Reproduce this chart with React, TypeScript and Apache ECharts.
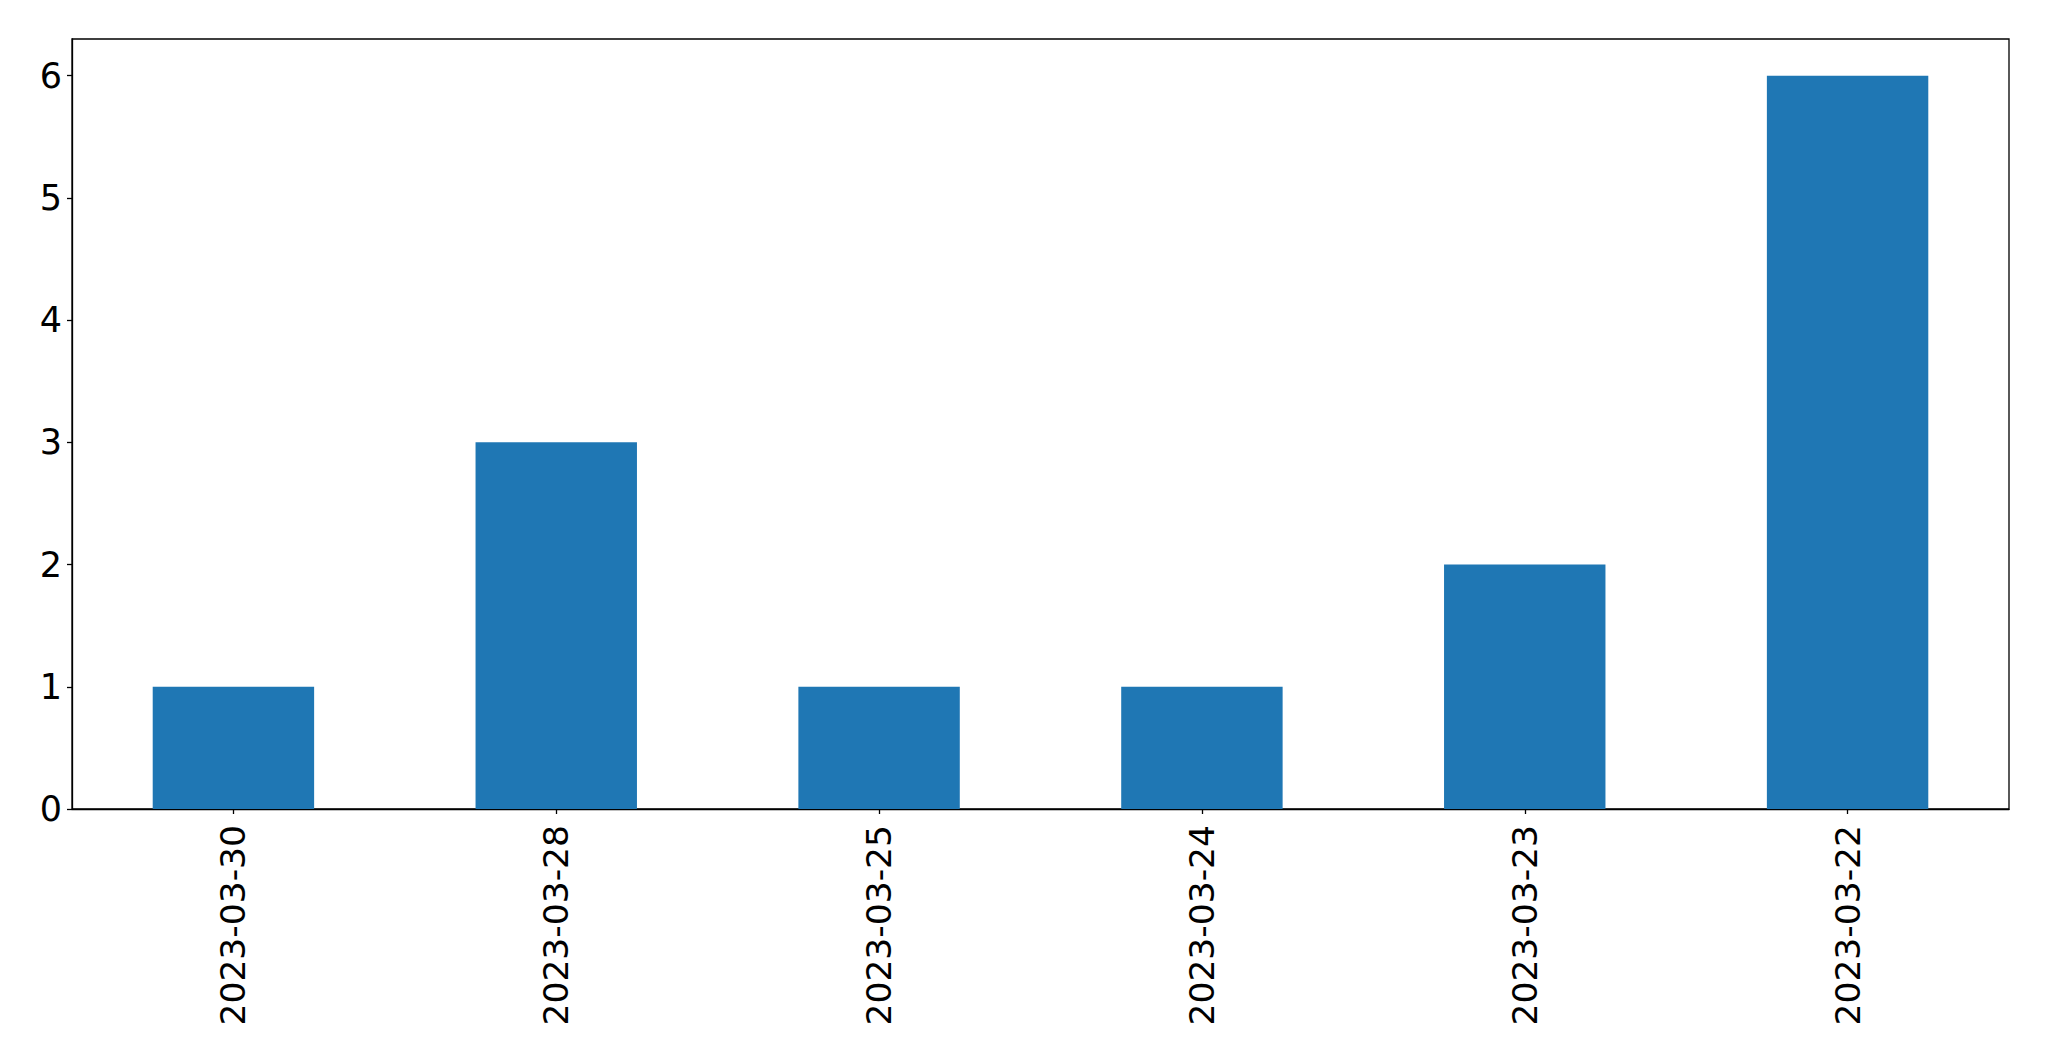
import React, { useEffect, useRef } from "react";
import * as echarts from "echarts";

const categories = ["2023-03-30", "2023-03-28", "2023-03-25", "2023-03-24", "2023-03-23", "2023-03-22"];
const values = [1, 3, 1, 1, 2, 6];
const yTicks = [0, 1, 2, 3, 4, 5, 6];

export default function App() {
  const ref = useRef<HTMLDivElement>(null);
  useEffect(() => {
    document.body.style.margin = "0";
    const chart = echarts.init(ref.current!, null, { renderer: "svg" });
    const font = "DejaVu Sans";
    chart.setOption({
      animation: false,
      backgroundColor: "#ffffff",
      grid: {
        left: 72,
        top: 39,
        width: 1937,
        height: 770,
        show: true,
        borderColor: "#000000",
        borderWidth: 1.3,
        backgroundColor: "transparent",
      },
      xAxis: {
        type: "category",
        data: categories,
        axisLine: { show: true, lineStyle: { color: "#000000", width: 1.3 } },
        axisTick: { show: true, alignWithLabel: true, length: 5, lineStyle: { color: "#000000", width: 1.3 } },
        axisLabel: {
          rotate: 90,
          margin: 16,
          fontFamily: font,
          fontSize: 34.5,
          color: "#000000",
          interval: 0,
        },
        splitLine: { show: false },
      },
      yAxis: {
        type: "value",
        min: 0,
        max: 6.3,
        interval: 1,
        axisLine: { show: true, lineStyle: { color: "#000000", width: 1.3 } },
        axisTick: { show: true, length: 5, customValues: yTicks, lineStyle: { color: "#000000", width: 1.3 } },
        axisLabel: {
          margin: 10,
          fontFamily: font,
          fontSize: 35,
          color: "#000000",
          customValues: yTicks,
        },
        splitLine: { show: false },
      },
      series: [
        {
          type: "bar",
          data: values,
          barWidth: "50%",
          itemStyle: { color: "#1f77b4" },
        },
      ],
    });
    return () => chart.dispose();
  }, []);
  return <div ref={ref} style={{ width: 2049, height: 1061 }} />;
}
